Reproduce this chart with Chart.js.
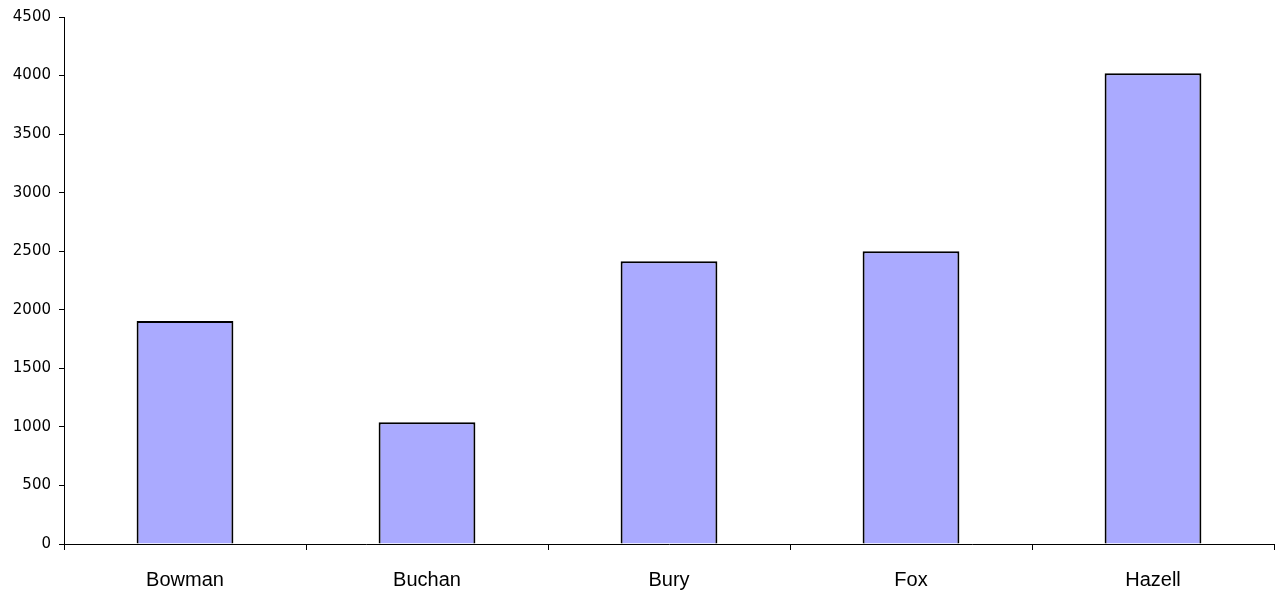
<!DOCTYPE html>
<html>
<head>
<meta charset="utf-8">
<script src="https://cdn.jsdelivr.net/npm/chart.js@4"></script>
<style>
  html, body { margin: 0; padding: 0; background: #fff; }
  #wrap { width: 1280px; height: 596px; }
</style>
</head>
<body>
<div id="wrap"><canvas id="chart" width="1280" height="596"></canvas></div>
<script>
const categories = ['Bowman', 'Buchan', 'Bury', 'Fox', 'Hazell'];
const values = [1905, 1040, 2415, 2500, 4020];
const yTicks = [0, 500, 1000, 1500, 2000, 2500, 3000, 3500, 4000, 4500];

new Chart(document.getElementById('chart'), {
  type: 'bar',
  data: {
    labels: categories,
    datasets: [{
      data: values,
      backgroundColor: '#aaaaff',
      borderColor: '#000000',
      borderWidth: 2,
      barPercentage: 0.4,
      categoryPercentage: 1
    }]
  },
  options: {
    responsive: false,
    animation: false,
    layout: { padding: { top: 16, right: 6, left: 0, bottom: 0 } },
    plugins: { legend: { display: false }, tooltip: { enabled: false } },
    scales: {
      x: {
        grid: { display: true, offset: true, drawOnChartArea: false, drawTicks: true, tickLength: 6, color: '#000' },
        border: { display: true, color: '#000', width: 1 },
        ticks: { color: '#000', padding: 18, font: { family: 'Liberation Sans', size: 20 } },
        afterFit: (scale) => { scale.height = 52; }
      },
      y: {
        min: 0,
        max: 4500,
        afterBuildTicks: (scale) => { scale.ticks = yTicks.map((v) => ({ value: v })); },
        grid: { display: true, drawOnChartArea: false, drawTicks: true, tickLength: 5, color: '#000' },
        border: { display: true, color: '#000', width: 1 },
        ticks: { color: '#000', padding: 8, font: { family: 'DejaVu Sans', size: 15 }, callback: (v) => String(v) },
        afterFit: (scale) => { scale.width = 64; }
      }
    }
  }
});
</script>
</body>
</html>
